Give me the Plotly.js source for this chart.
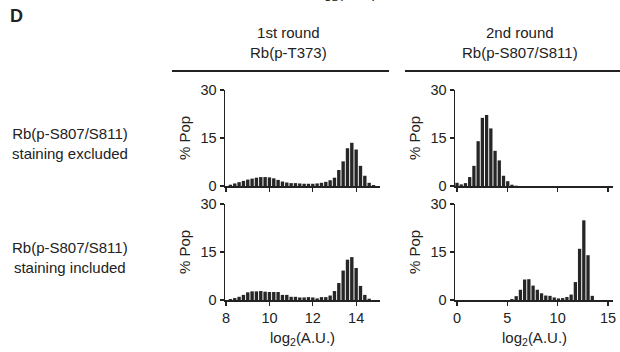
<!DOCTYPE html>
<html><head><meta charset="utf-8">
<script src="https://cdn.plot.ly/plotly-3.0.1.min.js"></script>
<style>html,body{margin:0;padding:0;background:#fff}#chart{width:620px;height:352px}</style>
</head><body><div id="chart"></div>
<script>
// ---- data ----
const xRound1 = [8.2,8.4,8.6,8.8,9.0,9.2,9.4,9.6,9.8,10.0,10.2,10.4,10.6,10.8,11.0,11.2,11.4,11.6,11.8,12.0,12.2,12.4,12.6,12.8,13.0,13.2,13.4,13.6,13.8,14.0,14.2,14.4,14.6,14.8];
const popExcludedRound1 = [0.4,0.8,1.2,1.6,2.0,2.3,2.6,2.8,2.8,2.7,2.4,1.9,1.4,1.1,0.9,0.9,0.8,0.7,0.7,0.7,0.8,1.0,1.3,1.8,2.6,5.0,7.7,11.8,13.5,11.4,6.3,3.2,1.0,0.3];
const popIncludedRound1 = [0.3,0.6,1.0,1.6,2.4,2.7,2.7,2.8,2.6,2.5,2.5,2.5,1.6,1.6,1.0,1.0,0.8,0.8,0.9,0.8,0.5,0.9,0.9,1.4,2.8,5.3,9.2,12.6,13.4,10.0,4.4,1.6,0.4,0];
const xRound2 = [0,0.42,0.84,1.26,1.68,2.1,2.52,2.94,3.36,3.78,4.2,4.62,5.04,5.46,5.88,6.3,6.72,7.14,7.56,7.98,8.4,8.82,9.24,9.66,10.08,10.5,10.92,11.34,11.76,12.18,12.6,13.02,13.44,13.86];
const popExcludedRound2 = [1.0,0.5,0.9,2.8,6.3,14.0,21.3,22.2,18.0,11.0,8.0,3.2,1.5,0.4,0.1,0,0,0,0,0,0,0,0,0,0,0,0,0,0,0,0,0,0,0];
const popIncludedRound2 = [0,0,0,0,0,0,0,0,0,0,0,0,0,0.3,1.2,3.2,6.4,6.5,4.5,3.2,2.1,1.4,1.3,0.8,0.5,0.6,0.95,1.7,5.6,16.0,24.9,14.0,1.3,0];
const ticksRound1 = [8,10,12,14];
const ticksRound2 = [0,5,10,15];
const ticksPop = [0,15,30];
const colLabels = ["1st round<br>Rb(p-T373)", "2nd round<br>Rb(p-S807/S811)"];
const rowLabels = ["Rb(p-S807/S811)<br>staining excluded", "Rb(p-S807/S811)<br>staining included"];
const yTitle = "% Pop";
const xTitle = "log<sub>2</sub>(A.U.)";
const panelLetter = "D";

// ---- layout helpers ----
const W = 620, H = 352;
const px = v => v / W;
const py = v => 1 - v / H;
const FONT = "Liberation Sans, Arial, sans-serif";
const INK = "#222";
const barColor = "#262626";

function bar(x, y, xa, ya) {
  return {type: "bar", x: x, y: y, xaxis: xa, yaxis: ya,
    marker: {color: barColor, line: {width: 0}}, hoverinfo: "skip", showlegend: false};
}
const traces = [
  bar(xRound1, popExcludedRound1, "x", "y"),
  bar(xRound2, popExcludedRound2, "x2", "y2"),
  bar(xRound1, popIncludedRound1, "x3", "y3"),
  bar(xRound2, popIncludedRound2, "x4", "y4")
];

const axBase = {showline: true, linecolor: INK, linewidth: 1.5, ticks: "outside", ticklen: 4,
  tickwidth: 1.2, tickcolor: INK, showgrid: false, zeroline: false, fixedrange: true,
  tickfont: {family: FONT, size: 14.5, color: INK}};
const colX = [[225, 380], [455, 613]];
const rowY = [[90, 186], [204, 300]];
function xa(col, labels, anchor) {
  return Object.assign({}, axBase, {domain: [px(colX[col][0]), px(colX[col][1])],
    range: col === 0 ? [7.95, 15.1] : [-0.2, 15.5],
    tickvals: col === 0 ? ticksRound1 : ticksRound2, showticklabels: labels, anchor: anchor});
}
function ya(row, anchor) {
  return Object.assign({}, axBase, {domain: [py(rowY[row][1]), py(rowY[row][0])],
    range: [0, 30], tickvals: ticksPop, anchor: anchor});
}

const ann = [];
function txt(text, x, y, size, extra) {
  ann.push(Object.assign({text: text, x: px(x), y: py(y), xref: "paper", yref: "paper",
    showarrow: false, xanchor: "center", yanchor: "middle",
    font: {family: FONT, size: size, color: INK}}, extra || {}));
}
txt("<b>" + panelLetter + "</b>", 16, 16, 18);
txt(colLabels[0], 288, 42, 15);
txt(colLabels[1], 520, 42, 15);
txt(rowLabels[0], 70, 143, 15);
txt(rowLabels[1], 70, 257, 15);
txt(yTitle, 184, 138, 15, {textangle: -90});
txt(yTitle, 414, 138, 15, {textangle: -90});
txt(yTitle, 184, 252, 15, {textangle: -90});
txt(yTitle, 414, 252, 15, {textangle: -90});
txt(xTitle, 302, 338, 15);
txt(xTitle, 534, 338, 15);
txt(xTitle, 345, -7, 15);

const layout = {
  width: W, height: H, margin: {l: 0, r: 0, t: 0, b: 0},
  paper_bgcolor: "#fff", plot_bgcolor: "rgba(0,0,0,0)",
  bargap: 0.22, showlegend: false,
  xaxis: xa(0, false, "y"), yaxis: ya(0, "x"),
  xaxis2: xa(1, false, "y2"), yaxis2: ya(0, "x2"),
  xaxis3: xa(0, true, "y3"), yaxis3: ya(1, "x3"),
  xaxis4: xa(1, true, "y4"), yaxis4: ya(1, "x4"),
  annotations: ann,
  shapes: [
    {type: "line", xref: "paper", yref: "paper", x0: px(172), x1: px(389), y0: py(71), y1: py(71), line: {color: INK, width: 2}},
    {type: "line", xref: "paper", yref: "paper", x0: px(405), x1: px(620), y0: py(71), y1: py(71), line: {color: INK, width: 2}}
  ]
};
Plotly.newPlot("chart", traces, layout, {displayModeBar: false, staticPlot: true});
</script></body></html>
